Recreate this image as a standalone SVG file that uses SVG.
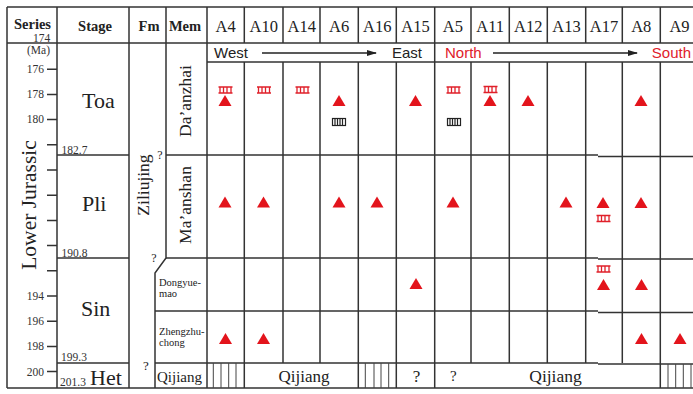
<svg xmlns="http://www.w3.org/2000/svg" width="693" height="394" viewBox="0 0 693 394">
<style>
.ln{stroke:#333;stroke-width:1.5;fill:none}
.th{stroke:#444;stroke-width:1;fill:none}
.serif{font-family:"Liberation Serif","Times New Roman",serif;fill:#222}
.sans{font-family:"Liberation Sans",Arial,sans-serif;font-size:15px}
.hd{font-size:14.5px;font-weight:bold}
.col{font-size:16.5px;text-anchor:middle}
.stg{font-size:22px}
.num{font-size:11.5px;fill:#333}
.tk{font-size:11.5px;fill:#333;text-anchor:end}
.mem{font-size:17.5px;text-anchor:middle}
.sm{font-size:10.5px}
.red{fill:#e0202a}
.blk{fill:#222}
.tri{fill:#e3141c}
.lad{stroke:#e0202a;stroke-width:1.3;fill:none}
.hat{stroke:#222;stroke-width:1.2;fill:none}
</style>
<defs>
<path id="tri" class="tri" d="M0,-5.5 L6.5,5.5 L-6.5,5.5 Z"/>
<g id="lad" class="lad"><path d="M-7,-3 H7 M-7,3 H7 M-5.5,-3 V3 M-2,-3 V3 M1.5,-3 V3 M5.5,-3 V3"/></g>
<g id="hat" class="hat"><rect x="-6.5" y="-3.5" width="13" height="7"/><path d="M-4,-3.5 V3.5 M-1.5,-3.5 V3.5 M1,-3.5 V3.5 M3.5,-3.5 V3.5"/></g>
<marker id="arr" markerWidth="10" markerHeight="8" refX="9" refY="4" orient="auto" markerUnits="userSpaceOnUse"><path d="M0,1 L10,4 L0,7 Z" fill="#222"/></marker>
</defs>
<rect width="693" height="394" fill="#fff"/>

<g id="grid">
<path class="ln" d="M7,7 V388 M57,7 V388 M129,7 V388 M166,7 V258 L155,273 V388 M207,7 V388"/>
<path class="ln" d="M244.3,7 V43 M283,7 V43 M320,7 V43 M358.3,7 V43 M396.3,7 V43 M434.7,7 V43 M471,7 V43 M509.3,7 V43 M547.3,7 V43 M585.7,7 V43 M622.3,7 V43 M660.3,7 V43"/>
<path class="ln" d="M434.7,43 V62"/>
<path class="ln" d="M244.3,62 V388 M283,62 V363 M320,62 V363 M358.3,62 V388 M396.3,62 V388 M434.7,62 V388 M471,62 V363 M509.3,62 V363 M547.3,62 V363 M585.7,62 V363 M622.3,62 V363 M660.3,62 V388"/>
<path class="ln" d="M7,7 H693 M7,43 H693 M207,62 H693 M7,388 H693"/>
<path class="ln" d="M57,155 H129 M166,155 H598 M598,156.5 H693"/>
<path class="ln" d="M57,258 H129 M166,258 H598 M598,259 H693"/>
<path class="ln" d="M155,311 H598 M598,312.5 H693"/>
<path class="ln" d="M57,363 H129 M155,363 H598 M598,364 H693"/>
<path class="th" d="M213.3,363 V388 M221,363 V388 M228.7,363 V388 M236,363 V388"/>
<path class="th" d="M365.3,363 V388 M374,363 V388 M381,363 V388 M388.7,363 V388"/>
<path class="th" d="M668,364 V388 M675.7,364 V388 M683.3,364 V388 M691,364 V388"/>
<path class="ln" d="M47,69.2 H57 M47,94.4 H57 M47,119.6 H57 M47,144.8 H57 M47,170 H57 M47,195.2 H57 M47,220.4 H57 M47,245.6 H57 M47,270.8 H57 M47,296 H57 M47,321.2 H57 M47,346.4 H57 M47,371.6 H57"/>
</g>

<g id="header">
<text class="serif hd" x="32.5" y="29" text-anchor="middle">Series</text>
<text class="serif hd" x="95" y="30.5" text-anchor="middle">Stage</text>
<text class="serif hd" x="149" y="30.5" text-anchor="middle">Fm</text>
<text class="serif hd" x="185" y="30.5" text-anchor="middle">Mem</text>
<text class="serif num" font-size="11" x="41.5" y="41.5" text-anchor="middle">174</text>
<text class="serif num" x="38.5" y="54" text-anchor="middle">(Ma)</text>
<text class="serif col" x="225.7" y="31.5">A4</text>
<text class="serif col" x="263.7" y="31.5">A10</text>
<text class="serif col" x="301.7" y="31.5">A14</text>
<text class="serif col" x="339.2" y="31.5">A6</text>
<text class="serif col" x="377.3" y="31.5">A16</text>
<text class="serif col" x="415.5" y="31.5">A15</text>
<text class="serif col" x="452.9" y="31.5">A5</text>
<text class="serif col" x="490.2" y="31.5">A11</text>
<text class="serif col" x="528.3" y="31.5">A12</text>
<text class="serif col" x="566.5" y="31.5">A13</text>
<text class="serif col" x="604" y="31.5">A17</text>
<text class="serif col" x="641.3" y="31.5">A8</text>
<text class="serif col" x="679.5" y="31.5">A9</text>
</g>

<g id="direction">
<text class="sans blk" x="214" y="58">West</text>
<text class="sans blk" x="422" y="58" text-anchor="end">East</text>
<text class="sans red" x="445" y="58">North</text>
<text class="sans red" x="691" y="58" text-anchor="end">South</text>
<path d="M262,53 H376" stroke="#222" stroke-width="1.3" marker-end="url(#arr)"/>
<path d="M493,53 H637" stroke="#222" stroke-width="1.3" marker-end="url(#arr)"/>
</g>

<g id="timescale">
<text class="serif tk" x="44" y="73">176</text>
<text class="serif tk" x="44" y="98">178</text>
<text class="serif tk" x="44" y="123">180</text>
<text class="serif tk" x="44" y="299.5">194</text>
<text class="serif tk" x="44" y="325">196</text>
<text class="serif tk" x="44" y="350">198</text>
<text class="serif tk" x="44" y="375.5">200</text>
<text class="serif" font-size="21.5" text-anchor="middle" transform="translate(28.5,205) rotate(-90)" dy="0.33em">Lower Jurassic</text>
</g>

<g id="stages">
<text class="serif stg" x="82" y="107.5">Toa</text>
<text class="serif stg" x="82" y="210.5">Pli</text>
<text class="serif stg" x="81" y="315.5">Sin</text>
<text class="serif stg" x="90" y="384.5">Het</text>
<text class="serif num" x="61.5" y="154">182.7</text>
<text class="serif num" x="61.5" y="256.5">190.8</text>
<text class="serif num" x="61" y="361">199.3</text>
<text class="serif num" x="60" y="386">201.3</text>
</g>

<g id="formation">
<text class="serif mem" font-size="18" transform="translate(143.5,185) rotate(-90)" dy="0.33em">Ziliujing</text>
<text class="serif" font-size="12" x="160" y="158.5" text-anchor="middle">?</text>
<text class="serif" font-size="12" x="154" y="262" text-anchor="middle">?</text>
<text class="serif" font-size="13" x="146" y="370" text-anchor="middle">?</text>
</g>

<g id="members">
<text class="serif mem" transform="translate(185.5,101) rotate(-90)" dy="0.33em">Da’anzhai</text>
<text class="serif mem" transform="translate(185.5,205) rotate(-90)" dy="0.33em">Ma’anshan</text>
<text class="serif sm" x="159" y="285.5">Dongyue-</text>
<text class="serif sm" x="159" y="297">mao</text>
<text class="serif sm" x="159" y="335">Zhengzhu-</text>
<text class="serif sm" x="159" y="346">chong</text>
<text class="serif" font-size="15" x="179.5" y="381.5" text-anchor="middle">Qijiang</text>
</g>

<g id="qijiang-row">
<text class="serif" font-size="17" x="304" y="382" text-anchor="middle">Qijiang</text>
<text class="serif" font-size="17.5" x="555.5" y="382" text-anchor="middle">Qijiang</text>
<text class="serif" font-size="17" x="416.5" y="382" text-anchor="middle">?</text>
<text class="serif" font-size="15" x="453.3" y="381" text-anchor="middle">?</text>
</g>

<g id="symbols">
<use href="#tri" x="225" y="100.5"/>
<use href="#tri" x="225" y="202"/>
<use href="#tri" x="225.5" y="338.5"/>
<use href="#tri" x="263.5" y="202"/>
<use href="#tri" x="263.5" y="338.5"/>
<use href="#tri" x="339" y="100.5"/>
<use href="#tri" x="339" y="202"/>
<use href="#tri" x="377" y="202"/>
<use href="#tri" x="415.5" y="100.5"/>
<use href="#tri" x="416" y="283.5"/>
<use href="#tri" x="453" y="202"/>
<use href="#tri" x="490" y="100.5"/>
<use href="#tri" x="528" y="100.5"/>
<use href="#tri" x="566" y="202"/>
<use href="#tri" x="603" y="202.5"/>
<use href="#tri" x="603.5" y="284.5"/>
<use href="#tri" x="641" y="100.5"/>
<use href="#tri" x="641" y="202.5"/>
<use href="#tri" x="641.5" y="284.5"/>
<use href="#tri" x="641.5" y="338.5"/>
<use href="#tri" x="680" y="338.5"/>
<use href="#lad" x="225.5" y="90"/>
<use href="#lad" x="264" y="90"/>
<use href="#lad" x="302.5" y="90"/>
<use href="#lad" x="453.5" y="90"/>
<use href="#lad" x="490.5" y="89.5"/>
<use href="#lad" x="603.5" y="218.5"/>
<use href="#lad" x="603.5" y="269"/>
<use href="#hat" x="339" y="122"/>
<use href="#hat" x="454" y="122"/>
</g>
</svg>
